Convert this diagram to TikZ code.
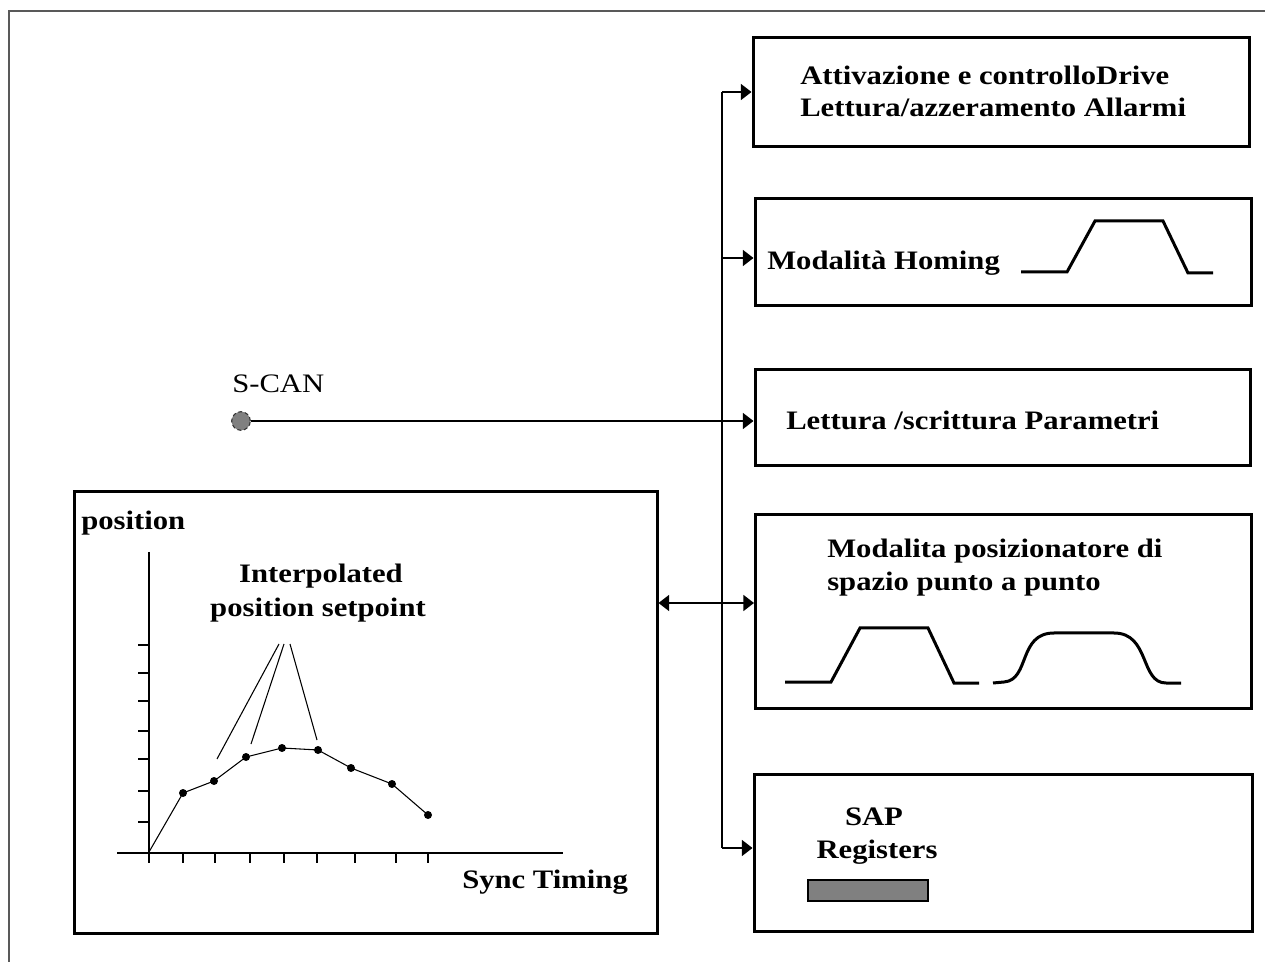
\documentclass[tikz,border=0pt]{standalone}
\usepackage{fontspec}
\setmainfont{Liberation Serif}[FakeStretch=1.15]
\usetikzlibrary{arrows.meta}
\tikzset{
  box/.style={draw, line width=2.25pt, inner sep=0pt},
  lbl/.style={font=\fontsize{20}{24}\selectfont\bfseries, inner sep=0pt, anchor=base west},
  lblc/.style={lbl, anchor=base},
  plain/.style={font=\fontsize{20}{24}\selectfont, inner sep=0pt, anchor=base west},
  conn/.style={line width=1.3pt},
  arr/.style={conn, -{Triangle[length=8pt,width=12pt]}},
  arrb/.style={conn, {Triangle[length=8pt,width=12pt]}-{Triangle[length=8pt,width=12pt]}},
  wave/.style={line width=2.25pt, line join=miter},
  thin/.style={line width=0.8pt},
  dot/.style={fill=black}
}
\begin{document}
\begin{tikzpicture}[x=0.75pt,y=-0.75pt]
\useasboundingbox (0,0) rectangle (1265,962);
% outer frame
\draw[line width=1.6pt, draw=black!65] (9,962) -- (9,11) -- (1265,11);

% right boxes
\node[box, minimum width=496*0.75pt, minimum height=109*0.75pt] (b1) at (1001,92.5) {};
\node[box, minimum width=496*0.75pt, minimum height=107*0.75pt] (b2) at (1003,252.5) {};
\node[box, minimum width=495*0.75pt, minimum height=96*0.75pt] (b3) at (1002.5,418) {};
\node[box, minimum width=496*0.75pt, minimum height=194*0.75pt] (b4) at (1003.5,611.5) {};
\node[box, minimum width=498*0.75pt, minimum height=157*0.75pt] (b5) at (1003,852.5) {};

% left box
\node[box, minimum width=583*0.75pt, minimum height=441*0.75pt] (lb) at (365.5,712.5) {};

% texts in right boxes
\node[lbl] (t1a) at (800,85) {Attivazione e controlloDrive};
\node[lbl] (t1b) at (800,117) {Lettura/azzeramento Allarmi};
\node[lbl] (t2) at (767,270) {Modalità Homing};
\node[lbl] (t3) at (786,430) {Lettura /scrittura Parametri};
\node[lbl] (t4a) at (827,558) {Modalita posizionatore di};
\node[lbl] (t4b) at (827,591) {spazio punto a punto};
\node[lblc] (t5a) at (874,825) {SAP};
\node[lblc] (t5b) at (877,858) {Registers};
\fill[fill=black!50, draw=black, line width=0.8pt] (808,880) rectangle (928,901);

% waveforms
\draw[wave] (1021,272) -- (1067,272) -- (1095,221) -- (1163,221) -- (1188,273) -- (1213,273);
\draw[wave] (785,682) -- (831,682) -- (860,628) -- (928,628) -- (954,683) -- (979,683);
\draw[wave, line join=round] (993,683) -- (1004,682) .. controls (1030,680) and (1018,633) .. (1054,633)
  -- (1114,633) .. controls (1150,633) and (1140,683) .. (1166,683) -- (1181,683);

% bus and arrows
\coordinate (bt) at (722,92);
\coordinate (bb) at (722,848);
\draw[conn] (bt) -- (bb);
\draw[arr] (bt) -- (bt -| b1.west);
\coordinate (j2) at (722,258);
\draw[arr] (j2) -- (j2 -| b2.west);
\coordinate (j4) at (722,603);
\draw[arr] (bb) -- (bb -| b5.west);
\draw[arrb] (j4 -| lb.east) -- (j4 -| b4.west);

% S-CAN
\node[plain] (scanl) at (232,393) {S-CAN};
\node[circle, minimum size=14pt, inner sep=0pt, fill=black!50, draw=black!80, densely dashed, line width=0.8pt] (scan) at (241,421) {};
\draw[arr] (scan.east) -- (scan.east -| b3.west);

% graph
\draw[thin] (149,552) -- (149,863);
\draw[thin] (117,853) -- (563,853);
\foreach \y in {645,673,701,731,759,791,822} \draw[thin] (138,\y) -- (149,\y);
\foreach \x in {149,183,215,250,284,317,355,396,428} \draw[thin] (\x,853) -- (\x,863);
\draw[thin] (149,852) -- (183,793) -- (214,781) -- (246,757) -- (282,748) -- (318,750) -- (351,768) -- (392,784) -- (428,815);
\foreach \x/\y in {183/793,214/781,246/757,282/748,318/750,351/768,392/784,428/815} \fill[dot] (\x,\y) circle (3pt);
\draw[thin] (217,759) -- (279,644);
\draw[thin] (251,744) -- (284,644);
\draw[thin] (290,644) -- (317,740);
\node[lbl] (pos) at (81,530) {position};
\node[lblc] (ip1) at (321,583) {Interpolated};
\node[lblc] (ip2) at (318,617) {position setpoint};
\node[lbl] (sync) at (462,888) {Sync Timing};
\end{tikzpicture}
\end{document}
